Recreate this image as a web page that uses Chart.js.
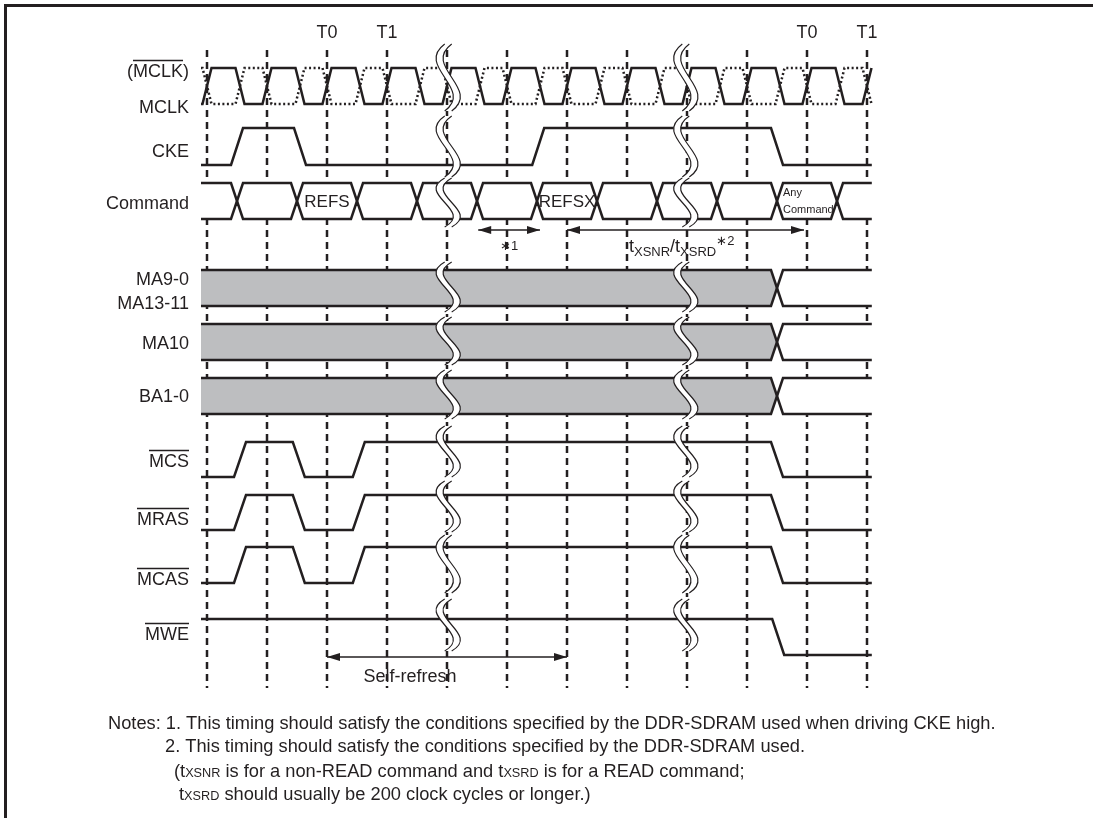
<!DOCTYPE html>
<html lang="en">
<head>
<meta charset="UTF-8">
<title>Self-Refresh Timing</title>
<script src="https://cdn.jsdelivr.net/npm/chart.js"></script>
<style>
  html, body { margin: 0; padding: 0; background: #fff; }
  #wrap { position: relative; width: 1093px; height: 818px; }
</style>
</head>
<body>
<div id="wrap"><canvas id="timing" width="1093" height="818"></canvas></div>
<script>
// time is in clock cycles, 0 = first dashed line; levels: 1 = high, 0 = low
const cycleTicks = [0, 1, 2, 3, 4, 5, 6, 7, 8, 9, 10, 11];
const cycleMarks = [2, 3, 10, 11];
const cycleMarkLabels = ['T0', 'T1', 'T0', 'T1'];

const mclkRise = [0, 1, 2, 3, 4, 5, 6, 7, 8, 9, 10, 11];
const mclkFall = [0.55, 1.55, 2.55, 3.55, 4.55, 5.55, 6.55, 7.55, 8.55, 9.55, 10.55];

const ckeEdges = [[0.5, 1], [1.55, 0], [5.52, 1], [9.5, 0]];
const mcsEdges = [[0.55, 1], [1.53, 0], [2.53, 1], [9.5, 0]];
const mrasEdges = [[0.55, 1], [1.53, 0], [2.53, 1], [9.5, 0]];
const mcasEdges = [[0.55, 1], [1.53, 0], [2.53, 1], [9.5, 0]];
const mweEdges = [[9.52, 0]];

const commandCross = [0.5, 1.5, 2.5, 3.5, 4.5, 5.5, 6.5, 7.5, 8.5, 9.5, 10.5];
const commandCells = ['', '', 'REFS', '', '', '', 'REFSX', '', '', '', 'Any|Command', ''];
const addressCross = [9.5];
const addressCells = ['hold', 'open'];

const breakTimes = [4.02, 7.98];
const star1Span = [4.52, 5.55];
const txsnrSpan = [6, 9.95];
const selfRefreshSpan = [2, 6];

const signalLabels = ['(MCLK)', 'MCLK', 'CKE', 'Command', 'MA9-0', 'MA13-11', 'MA10', 'BA1-0', 'MCS', 'MRAS', 'MCAS', 'MWE'];
const signalBars = [[1, 5], null, null, null, null, null, null, null, [0, 3], [0, 4], [0, 4], [0, 3]];

const noteLines = [
  'Notes: 1. This timing should satisfy the conditions specified by the DDR-SDRAM used when driving CKE high.',
  '2. This timing should satisfy the conditions specified by the DDR-SDRAM used.',
  '(t{XSNR} is for a non-READ command and t{XSRD} is for a READ command;',
  't{XSRD} should usually be 200 clock cycles or longer.)'
];

// ---- layout (pixels) ----
const W = 1093, H = 818;
const X0 = 207, CYC = 60;
const T_START = -0.1, T_END = 11.08;
const rowY = {
  clock: [68, 104], cke: [128, 165], command: [183, 219],
  ma90: [270, 306], ma10: [324, 360], ba: [378, 414],
  mcs: [442, 477], mras: [495, 530], mcas: [547, 583], mwe: [619, 655]
};
const breakRows = [[44, 111], [116, 177], [178, 227], [262, 312], [317, 365], [370, 419],
                   [426, 477], [481, 532], [535, 593], [599, 651]];
const labelY = [70, 106, 150, 202, 278, 302, 342, 395, 460, 518, 578, 633];
const noteX = [108, 165, 174, 179];
const noteY = [722, 745, 770, 793];
const ink = '#231f20';
const gray = '#bdbec0';
const FONT = "'Liberation Sans', Arial, Helvetica, sans-serif";

function levelTrace(startLevel, edges, w) {
  const pts = [[T_START, startLevel]];
  let lvl = startLevel;
  edges.forEach(([t, next]) => {
    pts.push([t - w / 2, lvl], [t + w / 2, next]);
    lvl = next;
  });
  pts.push([T_END, lvl]);
  const out = [];
  for (let i = 0; i < pts.length; i++) {
    const [x, v] = pts[i];
    if (x <= T_END) { out.push([x, v]); continue; }
    const [px, pv] = pts[i - 1];
    if (px < T_END) out.push([T_END, pv + (v - pv) * (T_END - px) / (x - px)]);
    break;
  }
  return out;
}

function toRow(trace, row) {
  const [hi, lo] = rowY[row];
  return trace.map(([x, v]) => ({ x, y: lo + v * (hi - lo) }));
}

const datasets = [];
function addLine(data, extra) {
  datasets.push(Object.assign({
    data, showLine: true, pointRadius: 0, borderColor: ink, borderWidth: 2.5,
    fill: false, tension: 0, order: 1
  }, extra || {}));
}

// dashed cycle lines
const gridPts = [];
cycleTicks.forEach(t => { gridPts.push({ x: t, y: 50 }, { x: t, y: 688 }, { x: t, y: null }); });
addLine(gridPts, { borderWidth: 2.5, borderDash: [7, 5], order: 10, spanGaps: false });

// clock pair
const clockEdges = mclkRise.map(t => [t, 1]).concat(mclkFall.map(t => [t, 0])).sort((a, b) => a[0] - b[0]);
addLine(toRow(levelTrace(0, clockEdges, 0.15), 'clock'));
addLine(toRow(levelTrace(1, clockEdges.map(([t, v]) => [t, 1 - v]), 0.15), 'clock'),
  { borderDash: [2, 2.5] });

// single-line signals
addLine(toRow(levelTrace(0, ckeEdges, 0.2), 'cke'));
addLine(toRow(levelTrace(0, mcsEdges, 0.2), 'mcs'));
addLine(toRow(levelTrace(0, mrasEdges, 0.2), 'mras'));
addLine(toRow(levelTrace(0, mcasEdges, 0.2), 'mcas'));
addLine(toRow(levelTrace(1, mweEdges, 0.2), 'mwe'));

// buses: outline plus one filled cell per state
function addBus(cross, row, cellColors) {
  const [hi, lo] = rowY[row];
  const mid = (hi + lo) / 2, w = 0.1;
  const edge = y => {
    const p = [{ x: T_START, y }];
    cross.forEach(c => p.push({ x: c - w, y }, { x: c, y: mid }, { x: c + w, y }));
    p.push({ x: T_END, y });
    return p;
  };
  addLine(edge(hi));
  addLine(edge(lo));
  const b = [T_START].concat(cross, [T_END]);
  for (let i = 0; i < b.length - 1; i++) {
    const side = y => {
      const p = i === 0 ? [{ x: b[i], y }] : [{ x: b[i], y: mid }, { x: b[i] + w, y }];
      if (i === b.length - 2) p.push({ x: b[i + 1], y });
      else p.push({ x: b[i + 1] - w, y }, { x: b[i + 1], y: mid });
      return p;
    };
    datasets.push({ data: side(hi), showLine: true, pointRadius: 0, borderWidth: 0,
      fill: '+1', backgroundColor: cellColors[i], order: 5 });
    datasets.push({ data: side(lo), showLine: true, pointRadius: 0, borderWidth: 0,
      fill: false, order: 5 });
  }
}
addBus(commandCross, 'command', commandCells.map(() => '#ffffff'));
const addrColors = addressCells.map(s => s === 'hold' ? gray : '#ffffff');
addBus(addressCross, 'ma90', addrColors);
addBus(addressCross, 'ma10', addrColors);
addBus(addressCross, 'ba', addrColors);

// arrow shafts
addLine([{ x: star1Span[0], y: 230 }, { x: star1Span[1], y: 230 }], { borderWidth: 1.5 });
addLine([{ x: txsnrSpan[0], y: 230 }, { x: txsnrSpan[1], y: 230 }], { borderWidth: 1.5 });
addLine([{ x: selfRefreshSpan[0], y: 657 }, { x: selfRefreshSpan[1], y: 657 }], { borderWidth: 1.5 });

function drawRuns(ctx, x, y, runs) {
  runs.forEach(([txt, size, dy]) => {
    ctx.font = size + 'px ' + FONT;
    ctx.fillText(txt, x, y + dy);
    x += ctx.measureText(txt).width;
  });
}

const decor = {
  id: 'decor',
  beforeDraw(chart) {
    const ctx = chart.ctx;
    ctx.save();
    ctx.fillStyle = '#fff';
    ctx.fillRect(0, 0, chart.width, chart.height);
    ctx.strokeStyle = ink;
    ctx.lineWidth = 3;
    ctx.beginPath();
    ctx.moveTo(5.5, chart.height);
    ctx.lineTo(5.5, 5.5);
    ctx.lineTo(chart.width, 5.5);
    ctx.stroke();
    ctx.restore();
  },
  afterDatasetsDraw(chart) {
    const ctx = chart.ctx;
    const xs = chart.scales.x, ys = chart.scales.y;
    const px = t => xs.getPixelForValue(t);
    const py = v => ys.getPixelForValue(v);
    ctx.save();

    // break marks: two parallel S curves with white between
    breakTimes.forEach(t => {
      const cx = px(t);
      breakRows.forEach(([a, b]) => {
        const top = py(a), bot = py(b), h = bot - top, c = 30, g = 3.5;
        const down = ox => ctx.bezierCurveTo(cx + ox - c, top + h / 3, cx + ox + c, top + 2 * h / 3, cx + ox, bot);
        ctx.beginPath();
        ctx.moveTo(cx - g, top);
        down(-g);
        ctx.lineTo(cx + g, bot);
        ctx.bezierCurveTo(cx + g + c, top + 2 * h / 3, cx + g - c, top + h / 3, cx + g, top);
        ctx.closePath();
        ctx.fillStyle = '#fff';
        ctx.fill();
        ctx.beginPath();
        ctx.moveTo(cx - g, top);
        down(-g);
        ctx.moveTo(cx + g, top);
        down(g);
        ctx.strokeStyle = ink;
        ctx.lineWidth = 1.2;
        ctx.stroke();
      });
    });

    ctx.fillStyle = ink;
    ctx.strokeStyle = ink;
    ctx.textBaseline = 'alphabetic';

    // cycle marks
    ctx.font = '18px ' + FONT;
    ctx.textAlign = 'center';
    cycleMarks.forEach((t, i) => ctx.fillText(cycleMarkLabels[i], px(t), 38));

    // signal labels with overlines
    ctx.textAlign = 'left';
    signalLabels.forEach((name, i) => {
      const wTot = ctx.measureText(name).width;
      const x = 189 - wTot, base = py(labelY[i]) + 6.5;
      ctx.fillText(name, x, base);
      const bar = signalBars[i];
      if (bar) {
        const x1 = x + ctx.measureText(name.slice(0, bar[0])).width;
        const x2 = x + ctx.measureText(name.slice(0, bar[1])).width;
        ctx.lineWidth = 1.3;
        ctx.beginPath();
        ctx.moveTo(x1, base - 16);
        ctx.lineTo(x2, base - 16);
        ctx.stroke();
      }
    });

    // command cell texts
    const cmdB = [T_START].concat(commandCross, [T_END]);
    const cmdMid = (rowY.command[0] + rowY.command[1]) / 2;
    commandCells.forEach((txt, i) => {
      if (!txt) return;
      const parts = txt.split('|');
      if (parts.length === 1) {
        ctx.font = '17px ' + FONT;
        ctx.textAlign = 'center';
        ctx.fillText(txt, px((cmdB[i] + cmdB[i + 1]) / 2), py(cmdMid) + 6);
      } else {
        ctx.font = '11px ' + FONT;
        ctx.textAlign = 'left';
        ctx.fillText(parts[0], px(cmdB[i]) + 6, py(cmdMid) - 5);
        ctx.fillText(parts[1], px(cmdB[i]) + 6, py(cmdMid) + 12);
      }
    });

    // arrowheads
    const head = (x, y, dir) => {
      ctx.beginPath();
      ctx.moveTo(x, y);
      ctx.lineTo(x - dir * 13, y - 4);
      ctx.lineTo(x - dir * 13, y + 4);
      ctx.closePath();
      ctx.fill();
    };
    [[star1Span, 230], [txsnrSpan, 230], [selfRefreshSpan, 657]].forEach(([s, y]) => {
      head(px(s[0]), py(y), -1);
      head(px(s[1]), py(y), 1);
    });

    // arrow captions
    ctx.font = '13px ' + FONT;
    ctx.textAlign = 'center';
    ctx.fillText('\u22171', px((star1Span[0] + star1Span[1]) / 2), py(250));
    ctx.textAlign = 'left';
    drawRuns(ctx, 629, py(252), [['t', 18, 0], ['XSNR', 13, 4], ['/t', 18, 0], ['XSRD', 13, 4], ['\u22172', 13, -7]]);
    ctx.font = '18px ' + FONT;
    ctx.textAlign = 'center';
    ctx.fillText('Self-refresh', 410, py(682));

    // notes
    ctx.textAlign = 'left';
    noteLines.forEach((line, i) => {
      const runs = line.split(/(\{[^}]*\})/).filter(s => s).map(s =>
        s[0] === '{' ? [s.slice(1, -1), 12.7, 0] : [s, 18.25, 0]);
      drawRuns(ctx, noteX[i], noteY[i] + 6.5, runs);
    });
    ctx.restore();
  }
};

new Chart(document.getElementById('timing'), {
  type: 'scatter',
  data: { datasets },
  options: {
    responsive: false,
    devicePixelRatio: 1,
    animation: false,
    events: [],
    layout: { padding: 0 },
    plugins: { legend: { display: false }, tooltip: { enabled: false } },
    scales: {
      x: { type: 'linear', display: false, min: -X0 / CYC, max: (W - X0) / CYC },
      y: { type: 'linear', display: false, reverse: true, min: 0, max: H }
    }
  },
  plugins: [decor]
});
</script>
</body>
</html>
